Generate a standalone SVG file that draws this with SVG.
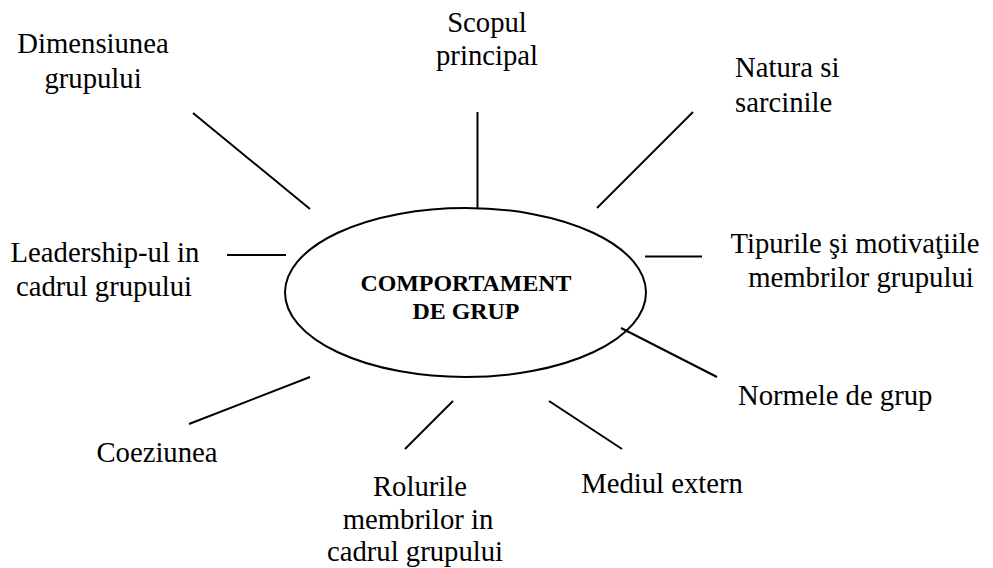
<svg xmlns="http://www.w3.org/2000/svg" width="993" height="568" viewBox="0 0 993 568">
<style>
text{font-family:'Liberation Serif','DejaVu Serif',serif;fill:#000}
.lbl{font-size:28.7px}
.c{text-anchor:middle}
.title{font-size:23.9px;font-weight:bold;text-anchor:middle}
.ln{stroke:#000;stroke-width:2;fill:none}
</style>
<rect width="993" height="568" fill="#fff"/>
<g id="connectors">
<line class="ln" x1="193" y1="113" x2="310" y2="209"/>
<line class="ln" x1="477.5" y1="112" x2="477.5" y2="208"/>
<line class="ln" x1="693" y1="112" x2="597" y2="208"/>
<line class="ln" x1="645" y1="256.5" x2="702" y2="256.5"/>
<line class="ln" x1="227" y1="255" x2="286" y2="255"/>
<line class="ln" x1="621" y1="328" x2="717" y2="377"/>
<line class="ln" x1="310" y1="377" x2="189" y2="424"/>
<line class="ln" x1="453" y1="401" x2="405" y2="449"/>
<line class="ln" x1="549" y1="401" x2="622" y2="449"/>
</g>
<g id="center">
<ellipse class="ln" cx="465.5" cy="292.5" rx="180.5" ry="84.5"/>
<text class="title" x="466" y="291">COMPORTAMENT</text>
<text class="title" x="466" y="319">DE GRUP</text>
</g>
<g id="dimensiunea">
<text class="lbl c" x="93" y="53">Dimensiunea</text>
<text class="lbl c" x="93" y="88">grupului</text>
</g>
<g id="scopul">
<text class="lbl c" x="487" y="32">Scopul</text>
<text class="lbl c" x="487" y="65">principal</text>
</g>
<g id="natura">
<text class="lbl" x="735" y="77">Natura si</text>
<text class="lbl" x="735" y="112">sarcinile</text>
</g>
<g id="tipurile">
<text class="lbl c" x="855" y="253">Tipurile şi motivaţiile</text>
<text class="lbl c" x="861" y="287">membrilor grupului</text>
</g>
<g id="leadership">
<text class="lbl c" x="105" y="262">Leadership-ul in</text>
<text class="lbl c" x="104" y="296">cadrul grupului</text>
</g>
<g id="normele">
<text class="lbl" x="738" y="405">Normele de grup</text>
</g>
<g id="coeziunea">
<text class="lbl c" x="157" y="462">Coeziunea</text>
</g>
<g id="mediul">
<text class="lbl c" x="662" y="493">Mediul extern</text>
</g>
<g id="rolurile">
<text class="lbl c" x="420" y="496">Rolurile</text>
<text class="lbl c" x="418" y="529">membrilor in</text>
<text class="lbl c" x="415" y="561">cadrul grupului</text>
</g>
</svg>
